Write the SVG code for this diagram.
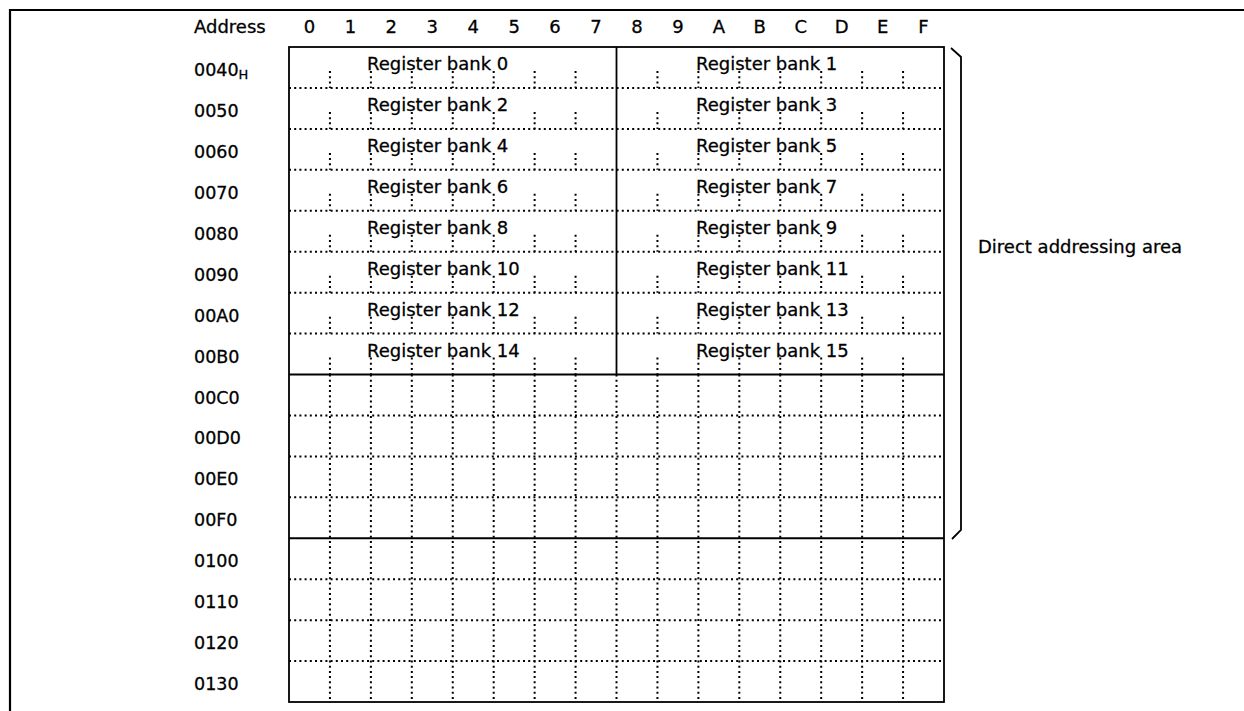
<svg xmlns="http://www.w3.org/2000/svg" xmlns:xlink="http://www.w3.org/1999/xlink" width="1244" height="711" viewBox="0 0 1244 711">
<style>
.solid{stroke:#000;stroke-width:1.8;fill:none}
.frame{stroke:#000;stroke-width:2.2;fill:none}
.dot{stroke:#000;stroke-width:2;fill:none;stroke-dasharray:2 3.2}
text{font-family:"DejaVu Sans","Liberation Sans",sans-serif;font-size:18px;fill:#000;stroke:#000;stroke-width:0.3}
.hdr{text-anchor:middle}
.lbl{font-size:17.5px}
.sub{font-size:13px}
</style>
<defs>
<path id="ticks" class="dot" d="M329.94 0v16.94M370.88 0v16.94M411.81 0v16.94M452.75 0v16.94M493.69 0v16.94M534.63 0v16.94M575.56 0v16.94M657.44 0v16.94M698.38 0v16.94M739.31 0v16.94M780.25 0v16.94M821.19 0v16.94M862.13 0v16.94M903.06 0v16.94"/>
</defs>
<rect width="1244" height="711" fill="#fff"/>
<g id="frame">
<path class="frame" d="M10 711V10H1244"/>
</g>
<g id="header">
<text x="194" y="33">Address</text>
<text class="hdr" x="309.5" y="33">0</text>
<text class="hdr" x="350.4" y="33">1</text>
<text class="hdr" x="391.3" y="33">2</text>
<text class="hdr" x="432.3" y="33">3</text>
<text class="hdr" x="473.2" y="33">4</text>
<text class="hdr" x="514.2" y="33">5</text>
<text class="hdr" x="555.1" y="33">6</text>
<text class="hdr" x="596" y="33">7</text>
<text class="hdr" x="637" y="33">8</text>
<text class="hdr" x="677.9" y="33">9</text>
<text class="hdr" x="718.8" y="33">A</text>
<text class="hdr" x="759.8" y="33">B</text>
<text class="hdr" x="800.7" y="33">C</text>
<text class="hdr" x="841.7" y="33">D</text>
<text class="hdr" x="882.6" y="33">E</text>
<text class="hdr" x="923.5" y="33">F</text>
</g>
<g id="row-labels">
<text class="lbl" x="194" y="76">0040<tspan class="sub" dy="3">H</tspan></text>
<text class="lbl" x="194" y="116.9">0050</text>
<text class="lbl" x="194" y="157.8">0060</text>
<text class="lbl" x="194" y="198.8">0070</text>
<text class="lbl" x="194" y="239.7">0080</text>
<text class="lbl" x="194" y="280.7">0090</text>
<text class="lbl" x="194" y="321.6">00A0</text>
<text class="lbl" x="194" y="362.5">00B0</text>
<text class="lbl" x="194" y="403.5">00C0</text>
<text class="lbl" x="194" y="444.4">00D0</text>
<text class="lbl" x="194" y="485.3">00E0</text>
<text class="lbl" x="194" y="526.3">00F0</text>
<text class="lbl" x="194" y="567.2">0100</text>
<text class="lbl" x="194" y="608.2">0110</text>
<text class="lbl" x="194" y="649.1">0120</text>
<text class="lbl" x="194" y="690">0130</text>
</g>
<g id="grid-lines">
<g id="upper-ticks">
<use xlink:href="#ticks" href="#ticks" y="71"/>
<use xlink:href="#ticks" href="#ticks" y="111.94"/>
<use xlink:href="#ticks" href="#ticks" y="152.88"/>
<use xlink:href="#ticks" href="#ticks" y="193.81"/>
<use xlink:href="#ticks" href="#ticks" y="234.75"/>
<use xlink:href="#ticks" href="#ticks" y="275.69"/>
<use xlink:href="#ticks" href="#ticks" y="316.63"/>
<use xlink:href="#ticks" href="#ticks" y="357.56"/>
</g>
<path class="dot" d="M289 87.94H944M289 128.88H944M289 169.81H944M289 210.75H944M289 251.69H944M289 292.63H944M289 333.56H944M289 415.44H944M289 456.38H944M289 497.31H944M289 579.19H944M289 620.13H944M289 661.06H944"/>
<path class="dot" d="M329.94 374.5V702M370.88 374.5V702M411.81 374.5V702M452.75 374.5V702M493.69 374.5V702M534.63 374.5V702M575.56 374.5V702M616.5 374.5V702M657.44 374.5V702M698.38 374.5V702M739.31 374.5V702M780.25 374.5V702M821.19 374.5V702M862.13 374.5V702M903.06 374.5V702"/>
<rect class="solid" x="289" y="47" width="655" height="655"/>
<path class="solid" d="M616.5 47V374.5M289 374.5H944M289 538.25H944"/>
</g>
<g id="banks">
<g id="bank0"><text x="367" y="70">Register bank 0</text></g>
<g id="bank1"><text x="696" y="70">Register bank 1</text></g>
<g id="bank2"><text x="367" y="110.9">Register bank 2</text></g>
<g id="bank3"><text x="696" y="110.9">Register bank 3</text></g>
<g id="bank4"><text x="367" y="151.9">Register bank 4</text></g>
<g id="bank5"><text x="696" y="151.9">Register bank 5</text></g>
<g id="bank6"><text x="367" y="192.8">Register bank 6</text></g>
<g id="bank7"><text x="696" y="192.8">Register bank 7</text></g>
<g id="bank8"><text x="367" y="233.8">Register bank 8</text></g>
<g id="bank9"><text x="696" y="233.8">Register bank 9</text></g>
<g id="bank10"><text x="367" y="274.7">Register bank 10</text></g>
<g id="bank11"><text x="696" y="274.7">Register bank 11</text></g>
<g id="bank12"><text x="367" y="315.6">Register bank 12</text></g>
<g id="bank13"><text x="696" y="315.6">Register bank 13</text></g>
<g id="bank14"><text x="367" y="356.6">Register bank 14</text></g>
<g id="bank15"><text x="696" y="356.6">Register bank 15</text></g>
</g>
<g id="direct-area">
<path class="solid" d="M951 48L961 57V530L952 539"/>
<text x="978" y="253">Direct addressing area</text>
</g>
</svg>
